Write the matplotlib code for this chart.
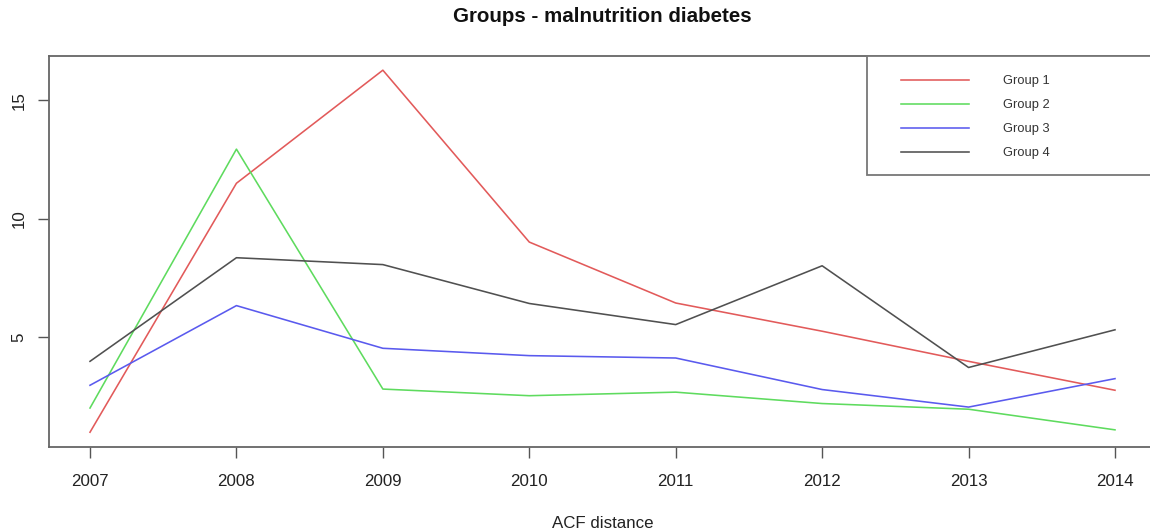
import matplotlib
matplotlib.use("Agg")
import matplotlib.pyplot as plt
from matplotlib.patches import Rectangle

plt.rcParams['font.family'] = ['Liberation Sans', 'DejaVu Sans']

years = [2007, 2008, 2009, 2010, 2011, 2012, 2013, 2014]
group1 = [1.0, 11.5, 16.27, 9.02, 6.45, 5.26, 3.99, 2.77]
group2 = [2.02, 12.94, 2.82, 2.54, 2.69, 2.21, 1.97, 1.1]
group3 = [2.98, 6.34, 4.54, 4.23, 4.13, 2.8, 2.06, 3.26]
group4 = [3.99, 8.36, 8.07, 6.43, 5.54, 8.02, 3.73, 5.32]
series_names = ["Group 1", "Group 2", "Group 3", "Group 4"]
series_colors = ["#E25A5A", "#5EDB5E", "#5A5AEE", "#505050"]
yticks = [5, 10, 15]

W, H = 1150, 532
fig = plt.figure(figsize=(W / 100, H / 100), dpi=100)
ax_l, ax_r, ax_t, ax_b = 49, 1156, 55.7, 446.7
ax = fig.add_axes([ax_l / W, (H - ax_b) / H, (ax_r - ax_l) / W, (ax_b - ax_t) / H])

for vals, name, col in zip([group1, group2, group3, group4], series_names, series_colors):
    ax.plot(years, vals, color=col, lw=1.15, label=name)

allv = group1 + group2 + group3 + group4
lo, hi = min(allv), max(allv)
pad = (hi - lo) * 0.04
ax.set_ylim(lo - pad, hi + pad)
xpad = (years[-1] - years[0]) * 0.04
ax.set_xlim(years[0] - xpad, years[-1] + xpad)

ax.set_xticks(years)
ax.set_xticklabels([str(y) for y in years])
ax.set_yticks(yticks)
ax.set_yticklabels([str(v) for v in yticks])
for lab in ax.get_yticklabels():
    lab.set_rotation(90)
    lab.set_va('center')
ax.tick_params(axis='both', length=8, width=1.0, color='#555555', labelsize=12.2,
               labelcolor='#222222')
ax.tick_params(axis='x', pad=12)
ax.tick_params(axis='y', pad=8)
for s in ax.spines.values():
    s.set_color('#666666')
    s.set_linewidth(1.3)

ax.set_title("Groups - malnutrition diabetes", fontsize=14.8, fontweight='bold',
             y=1 + 38.7 / (ax_b - ax_t), va='center', pad=0, color='#111111')
ax.set_xlabel("ACF distance", fontsize=12.2, color='#222222')
ax.xaxis.set_label_coords(0.5, -(523.5 - ax_b) / (ax_b - ax_t))
ax.xaxis.label.set_va('center')

# legend frame
aw, ah = ax_r - ax_l, ax_b - ax_t
fx0 = (866.7 - ax_l) / aw
fy0 = (ax_b - 175) / ah
ax.add_patch(Rectangle((fx0, fy0), 1 - fx0, 1 - fy0, transform=ax.transAxes,
                       facecolor='white', edgecolor='#777777', lw=1.3, zorder=5,
                       clip_on=False))
leg = ax.legend(loc='center left', bbox_to_anchor=((900.7 - ax_l) / aw, (ax_b - 117.3) / ah),
                frameon=False, fontsize=9.3, handlelength=68 / 12.9, handletextpad=33.7 / 12.9,
                labelspacing=0.92, borderpad=0, borderaxespad=0)
leg.set_zorder(6)
for t in leg.get_texts():
    t.set_color('#333333')

fig.savefig("out.png", dpi=100)
